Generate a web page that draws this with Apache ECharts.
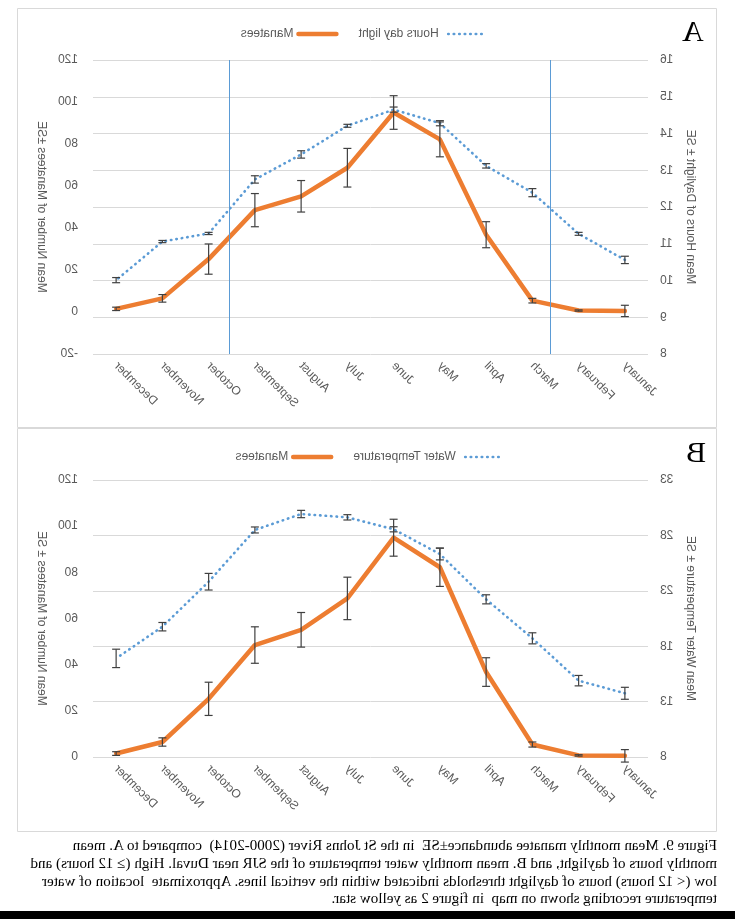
<!DOCTYPE html>
<html><head><meta charset="utf-8">
<script src="https://cdn.jsdelivr.net/npm/echarts@6/dist/echarts.min.js"></script>
<style>
html,body{margin:0;padding:0;background:#fff;}
#page{position:relative;width:735px;height:919px;transform:scaleX(-1);overflow:hidden;background:#fff;}
#chart{position:absolute;left:0;top:0;width:735px;height:840px;}
#caption{position:absolute;left:18px;top:837px;font-family:'Liberation Serif','Times New Roman',serif;font-size:15.1px;line-height:17.8px;color:#000;}
#caption div{white-space:nowrap;}
#bar{position:absolute;left:0;top:911px;width:735px;height:8px;background:#000;}
</style></head>
<body>
<div id="page">
  <div id="chart"></div>
  <div id="caption">
    <div>Figure 9. Mean monthly manatee abundance±SE&nbsp; in the St Johns River (2000-2014)&nbsp; compared to A. mean</div>
    <div>monthly hours of daylight, and B. mean monthly water temperature of the SJR near Duval. High (≥ 12 hours) and</div>
    <div>low (&lt; 12 hours) hours of daylight thresholds indicated within the vertical lines. Approximate&nbsp; location of water</div>
    <div>temperature recording shown on map&nbsp; in figure 2 as yellow star.</div>
  </div>
  <div id="bar"></div>
</div>
<script>
// ---- data ----
const months = ['January','February','March','April','May','June','July','August','September','October','November','December'];
const manatees   = [0.5, 0.7, 5.4, 36.8, 82.2, 95.0, 68.7, 55.1, 48.5, 25.2, 6.5, 1.5];
const manateeSE  = [2.7, 0.3, 1.1, 6.2, 8.3, 8.0, 9.2, 7.5, 7.9, 7.2, 1.8, 0.8];
const daylight   = [10.56, 11.27, 12.39, 13.12, 14.28, 14.65, 14.21, 13.43, 12.75, 11.28, 11.06, 10.01];
const daylightSE = [0.10, 0.04, 0.11, 0.06, 0.07, 0.07, 0.04, 0.10, 0.10, 0.03, 0.03, 0.07];
const waterTemp  = [13.75, 14.89, 18.71, 22.23, 26.32, 28.55, 29.63, 29.93, 28.49, 23.82, 19.76, 16.9];
const waterTempSE= [0.54, 0.47, 0.50, 0.41, 0.53, 0.23, 0.24, 0.33, 0.27, 0.75, 0.38, 0.83];
const thresholds = [2.1, 9.05];             // 12-hour daylight crossings, in month-band units
const periodNames = ['Low', 'High', 'Low'];
const periodPos   = [1.02, 5.53, 10.55];
const periodLevel = -12.4;
const tempBase = 8;                          // temperature axis starts at 8

// ---- styles ----
const blue = '#5B9BD5', orange = '#ED7D31', gray = '#595959', grid = '#D9D9D9', errColor = '#404040';
const font = {fontFamily:'Liberation Sans, Arial, sans-serif', fontSize:12, color:gray};
const dotted = {color:blue, width:2.6, type:[0.5,5], cap:'round'};
const thick = {color:orange, width:4.5, cap:'round', join:'round'};

function errSeries(xi, yi, vals, se, base){
  return {
    type:'custom', xAxisIndex:xi, yAxisIndex:yi, z:6, silent:true,
    data: vals.map((v,i)=>[i, v - se[i] - base, v + se[i] - base]),
    encode:{x:0, y:[1,2]},
    renderItem(params, api){
      const x = api.value(0);
      const lo = api.coord([x, api.value(1)]);
      const hi = api.coord([x, api.value(2)]);
      const w = 4, st = {stroke:errColor, lineWidth:1.2};
      return {type:'group', children:[
        {type:'line', shape:{x1:lo[0], y1:lo[1], x2:hi[0], y2:hi[1]}, style:st},
        {type:'line', shape:{x1:lo[0]-w, y1:lo[1], x2:lo[0]+w, y2:lo[1]}, style:st},
        {type:'line', shape:{x1:hi[0]-w, y1:hi[1], x2:hi[0]+w, y2:hi[1]}, style:st}
      ]};
    }
  };
}

function catAxis(gi){
  return {type:'category', gridIndex:gi, data:months, boundaryGap:true,
    axisLine:{show:false}, axisTick:{show:false},
    axisLabel:Object.assign({rotate:45, margin:10, interval:0}, font)};
}
function valAxis(gi, pos, min, max, interval, name, gap, split, fmt){
  return {type:'value', gridIndex:gi, position:pos, min, max, interval,
    name, nameLocation:'middle', nameGap:gap, nameTextStyle:Object.assign({}, font),
    axisLine:{show:false}, axisTick:{show:false},
    axisLabel:Object.assign({margin: pos==='left'?12:15, formatter:fmt}, font),
    splitLine:{show:split, lineStyle:{color:grid, width:1}}};
}
const legendBase = {itemWidth:38, itemHeight:14, itemGap:20, selectedMode:false,
  itemStyle:{opacity:0}, lineStyle:{width:'inherit', type:'inherit', cap:'inherit'},
  textStyle:Object.assign({}, font)};

const chart = echarts.init(document.getElementById('chart'));
chart.setOption({
  animation:false,
  grid:[
    {left:87, right:93, top:60, height:294},
    {left:87, right:93, top:480, height:277}
  ],
  xAxis:[catAxis(0), catAxis(1), {type:'value', gridIndex:0, min:0, max:12, show:false}],
  yAxis:[
    valAxis(0,'left',8,16,1,'Mean Hours of Daylight ± SE',33,true),
    valAxis(0,'right',-20,120,20,'Mean Number of Manatees ±SE',44,false),
    valAxis(1,'left',0,25,5,'Mean Water Temperature ± SE',33,true, v => String(v + tempBase)),
    valAxis(1,'right',0,120,20,'Mean Number of Manatees ± SE',44,false)
  ],
  legend:[
    Object.assign({data:['Hours day light','Manatees'], left:247, top:23}, legendBase),
    Object.assign({data:['Water Temperature','Manatees'], left:230, top:446}, legendBase)
  ],
  graphic:[
    {type:'rect', silent:true, shape:{x:18.5, y:8.5, width:699, height:419}, style:{fill:'none', stroke:grid, lineWidth:1}},
    {type:'rect', silent:true, shape:{x:18.5, y:428.5, width:699, height:403}, style:{fill:'none', stroke:grid, lineWidth:1}},
    {type:'text', silent:true, x:42, y:33, style:{text:'A', font:'30px "Liberation Serif"', fill:'#000', align:'center', verticalAlign:'middle', textAlign:'center', textVerticalAlign:'middle'}},
    {type:'text', silent:true, x:39, y:454, style:{text:'B', font:'30px "Liberation Serif"', fill:'#000', align:'center', verticalAlign:'middle', textAlign:'center', textVerticalAlign:'middle'}}
  ],
  series:[
    {name:'Hours day light', type:'line', xAxisIndex:0, yAxisIndex:0, data:daylight, symbol:'none', lineStyle:dotted, itemStyle:{color:blue}, z:3},
    {name:'Manatees', type:'line', xAxisIndex:0, yAxisIndex:1, data:manatees, symbol:'none', lineStyle:thick, itemStyle:{color:orange}, z:4},
    errSeries(0,0,daylight,daylightSE,0),
    errSeries(0,1,manatees,manateeSE,0),
    {type:'scatter', xAxisIndex:2, yAxisIndex:1, symbolSize:1, itemStyle:{opacity:0}, silent:true,
      data: periodPos.map((p,i)=>[p, periodLevel, periodNames[i]]),
      label:{show:true, position:'inside', formatter:'{@[2]}', fontFamily:'Liberation Serif', fontSize:16, color:'#000'},
      markLine:{silent:true, symbol:'none', label:{show:false}, lineStyle:{color:blue, width:1, type:'solid'},
        data: thresholds.map(t=>({xAxis:t}))}},
    {name:'Water Temperature', type:'line', xAxisIndex:1, yAxisIndex:2, data:waterTemp.map(t=>t - tempBase), symbol:'none', lineStyle:dotted, itemStyle:{color:blue}, z:3},
    {name:'Manatees', type:'line', xAxisIndex:1, yAxisIndex:3, data:manatees, symbol:'none', lineStyle:thick, itemStyle:{color:orange}, z:4},
    errSeries(1,2,waterTemp,waterTempSE,tempBase),
    errSeries(1,3,manatees,manateeSE,0)
  ]
});
</script>
</body></html>
